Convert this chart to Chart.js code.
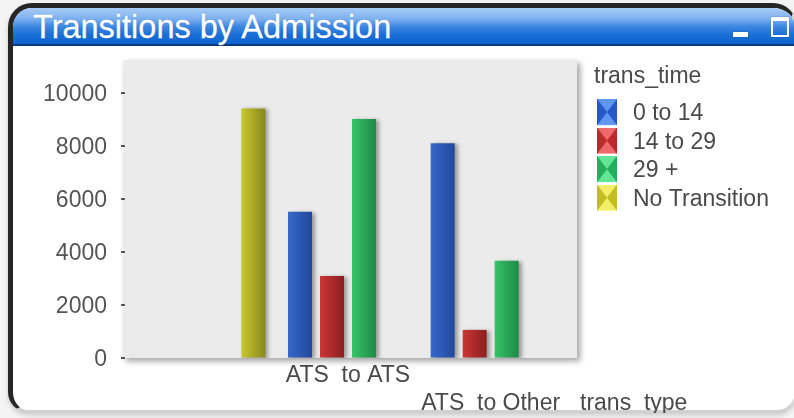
<!DOCTYPE html>
<html><head><meta charset="utf-8">
<script src="https://cdn.jsdelivr.net/npm/chart.js@4.4.1/dist/chart.umd.min.js"></script>
<style>
html,body{margin:0;padding:0;width:794px;height:418px;overflow:hidden;background:#f4f4f4;font-family:"Liberation Sans",Arial,sans-serif;}
#frame{position:absolute;left:8px;top:3px;width:789px;height:409px;box-sizing:border-box;background:#fff;border-top:5px solid #262626;border-left:5px solid #262626;border-right:2px solid #d4d4d4;border-bottom:2px solid #d0d0d0;border-radius:24px 24px 20px 20px;box-shadow:0 3px 5px rgba(0,0,0,0.18);overflow:hidden;}
#header{position:absolute;left:0;top:0;right:0;height:36px;background:linear-gradient(#a8ccf6 0%,#7db0ee 30%,#3b86e2 52%,#1a6fd6 75%,#0d64cf 100%);border-bottom:2px solid #0c3b7c;}
#title{position:absolute;left:20px;top:1px;line-height:36px;font-size:32.5px;color:#fff;white-space:nowrap;-webkit-text-stroke:0.3px #fff;text-shadow:0 0 1px rgba(0,40,100,0.5);}
#minBtn{position:absolute;left:720px;top:24px;width:15px;height:5px;background:#fff;box-shadow:0 0 1px rgba(0,0,0,0.4);}
#maxBtn{position:absolute;left:758px;top:9px;width:14px;height:14px;border:2px solid #fff;border-top-width:4px;box-shadow:0 0 1px rgba(0,0,0,0.4);}
#wrap{position:absolute;left:13px;top:47px;width:781px;height:366px;}
</style></head>
<body>
<div id="frame">
  <div id="header"><div id="title">Transitions by Admission</div><div id="minBtn"></div><div id="maxBtn"></div></div>
</div>
<div id="wrap"><canvas id="c" width="781" height="366"></canvas></div>
<script>
// ---- data ----
const categories = ["", "ATS  to ATS", "ATS  to Other"];
const seriesNames = ["0 to 14", "14 to 29", "29 +", "No Transition"];
const s0to14 = [null, 5520, 8110];
const s14to29 = [null, 3100, 1060];
const s29plus = [null, 9020, 3670];
const sNoTransition = [9420, null, null];
const yTicks = [0, 2000, 4000, 6000, 8000, 10000];
const yMax = 11250;
const xAxisTitle = "trans_type";
const legendTitle = "trans_time";

// ---- styles ----
const barLight = ["#3669cc", "#cc3636", "#35c468", "#cac72e"];
const barDark  = ["#22479a", "#8a1f1f", "#1f8a47", "#878720"];
const swBase   = ["#3a78e6", "#dd4040", "#38d274", "#e2dc38"];
const swLight  = ["#5f97f2", "#ee6a6a", "#63e597", "#f2ee6a"];
const swDark   = ["#2659c6", "#bb2a2a", "#24ad5a", "#c4bd22"];
const FONT = '"Liberation Sans", Arial, sans-serif';
const TXT = '#4a4a4a';

function makeSwatch(i){
  const c = document.createElement('canvas'); c.width = 27; c.height = 30;
  const g = c.getContext('2d'); const w = 20, h = 26;
  g.fillStyle = swBase[i]; g.fillRect(0,0,w,h);
  g.fillStyle = swLight[i];
  g.beginPath(); g.moveTo(0,0); g.lineTo(w,0); g.lineTo(w/2,h/2); g.closePath(); g.fill();
  g.beginPath(); g.moveTo(0,h); g.lineTo(w,h); g.lineTo(w/2,h/2); g.closePath(); g.fill();
  g.fillStyle = swDark[i];
  g.beginPath(); g.moveTo(0,0); g.lineTo(0,h); g.lineTo(w/2,h/2); g.closePath(); g.fill();
  g.beginPath(); g.moveTo(w,0); g.lineTo(w,h); g.lineTo(w/2,h/2); g.closePath(); g.fill();
  return c;
}
const swatches = [0,1,2,3].map(makeSwatch);

const seriesValues = [s0to14, s14to29, s29plus, sNoTransition];
const datasets = seriesNames.map((name, i) => ({
  label: name,
  data: seriesValues[i],
  backgroundColor: () => barLight[i],
  borderWidth: 0,
  categoryPercentage: 0.897,
  barPercentage: 0.75
}));

const plotBg = {
  id: 'plotBg',
  beforeDatasetsDraw(chart){
    const {ctx, chartArea: a} = chart;
    ctx.save();
    ctx.shadowColor = 'rgba(0,0,0,0.38)';
    ctx.shadowBlur = 6; ctx.shadowOffsetX = 3; ctx.shadowOffsetY = 3;
    ctx.fillStyle = '#ebebeb';
    ctx.fillRect(a.left - 11, a.top, (a.right + 15) - (a.left - 11), a.bottom - a.top);
    ctx.restore();
    // y tick dashes
    const y = chart.scales.y;
    ctx.save(); ctx.fillStyle = '#555';
    y.ticks.forEach(t => { const py = y.getPixelForValue(t.value); ctx.fillRect(a.left - 13, Math.round(py) - 1, 4, 2); });
    ctx.restore();
    // bar gradients
    chart.data.datasets.forEach((ds, di) => {
      chart.getDatasetMeta(di).data.forEach(el => {
        if (!isFinite(el.x) || !isFinite(el.width)) return;
        const g = ctx.createLinearGradient(el.x - el.width/2, 0, el.x + el.width/2, 0);
        g.addColorStop(0, barLight[di]); g.addColorStop(1, barDark[di]);
        el.options.backgroundColor = g;
      });
    });
    ctx.save();
    ctx.shadowColor = 'rgba(0,0,0,0.35)'; ctx.shadowBlur = 4; ctx.shadowOffsetX = 3; ctx.shadowOffsetY = 1;
  },
  afterDatasetsDraw(chart){
    chart.ctx.restore();
    const {ctx} = chart; const xs = chart.scales.x;
    ctx.save();
    ctx.font = '23px ' + FONT; ctx.fillStyle = TXT; ctx.textAlign = 'left'; ctx.textBaseline = 'middle';
    const L = 23 * 1.248;
    ctx.fillText(xAxisTitle, chart.chartArea.right + 18, xs.top + 3 + L/2 + L);
    ctx.restore();
  },
  afterLayout(chart){
    const lg = chart.legend; const a = chart.chartArea;
    const w = lg.width, h = lg.height;
    lg.left = a.right + 32; lg.right = lg.left + w;
    lg.top = 15; lg.bottom = lg.top + h;
  }
};

new Chart(document.getElementById('c'), {
  type: 'bar',
  data: { labels: categories, datasets },
  options: {
    responsive: false, animation: false, devicePixelRatio: 1,
    layout: { padding: { top: 13, right: 232, bottom: 0, left: 0 } },
    scales: {
      x: {
        grid: { display: false, drawTicks: false }, border: { display: false },
        ticks: { padding: 3, color: TXT, autoSkip: false, maxRotation: 0,
          font: { family: FONT, size: 23, lineHeight: 1.248 },
          callback(v, i){ const lab = categories[i]; return i % 2 === 0 ? ["", lab] : lab; } },
        afterFit(s){ s.height = 55; }
      },
      y: {
        min: 0, max: yMax,
        grid: { display: true, drawOnChartArea: false, drawTicks: true, tickLength: 27, color: 'rgba(0,0,0,0)' },
        border: { display: false },
        ticks: { padding: 0, labelOffset: 2, color: '#555', font: { family: FONT, size: 23, lineHeight: 1 },
          callback(v){ return String(v); } },
        afterBuildTicks(s){ s.ticks = yTicks.map(v => ({ value: v })); },
        afterFit(s){ s.width = 121; }
      }
    },
    plugins: {
      tooltip: { enabled: false },
      legend: {
        position: 'chartArea', align: 'start',
        title: { display: true, text: legendTitle, position: 'start', color: TXT,
          font: { family: FONT, size: 23 }, padding: { top: 3.5, bottom: 4 } },
        labels: {
          usePointStyle: true, pointStyleWidth: 22, padding: 5.5, color: TXT,
          font: { family: FONT, size: 23 },
          generateLabels(chart){
            const items = Chart.defaults.plugins.legend.labels.generateLabels(chart);
            items.forEach((it, i) => { it.pointStyle = swatches[i]; it.fontColor = TXT; });
            return items;
          }
        }
      }
    }
  },
  plugins: [plotBg]
});
</script>
</body></html>
